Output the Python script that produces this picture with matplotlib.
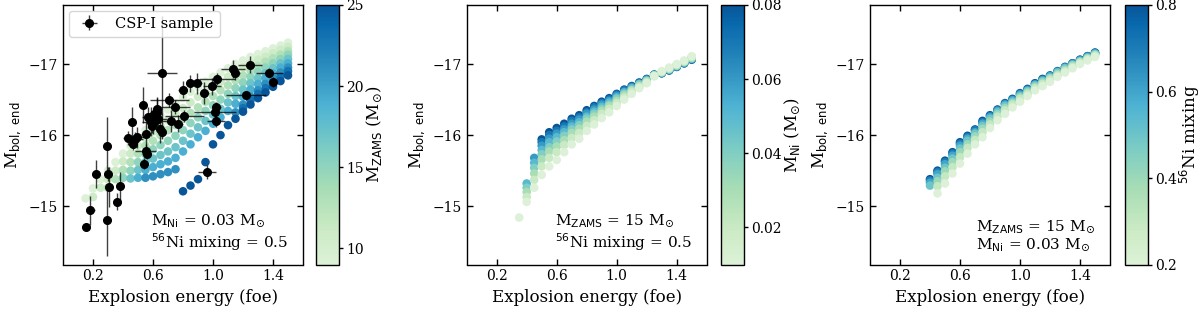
import numpy as np
import matplotlib
matplotlib.use("Agg")
import matplotlib.pyplot as plt
from matplotlib.colors import LinearSegmentedColormap, Normalize
from matplotlib.cm import ScalarMappable

plt.rcParams['font.family'] = ['DejaVu Serif']
plt.rcParams['mathtext.fontset'] = 'dejavusans'

nan = np.nan

# ---------------- Panel 1 : model grid vs progenitor mass ----------------
energy1 = [0.15, 0.20, 0.25, 0.30, 0.35, 0.40, 0.45, 0.50, 0.55, 0.60, 0.65, 0.70, 0.75,
           0.80, 0.85, 0.90, 0.95, 1.00, 1.05, 1.10, 1.15, 1.20, 1.25, 1.30, 1.35, 1.40,
           1.45, 1.50]
masses = [9, 11, 13, 15, 17, 19, 21, 23, 25]
mbol_m9 = [-15.11, -15.25, -15.38, -15.50, -15.62, -15.74, -15.85, -15.96, -16.07, -16.17,
           -16.27, -16.36, -16.45, -16.53, -16.61, -16.68, -16.75, -16.82, -16.88, -16.94,
           -17.00, -17.05, -17.10, -17.14, -17.18, -17.22, -17.26, -17.30]
mbol_m11 = [nan, -15.13, -15.26, -15.38, -15.50, -15.63, -15.74, -15.85, -15.96, -16.05,
            -16.13, -16.21, -16.30, -16.38, -16.46, -16.54, -16.61, -16.69, -16.75, -16.82,
            -16.89, -16.95, -17.01, -17.06, -17.10, -17.15, -17.20, -17.24]
mbol_m13 = [nan, nan, nan, -15.26, -15.38, -15.51, -15.62, -15.74, -15.85, -15.92,
            -16.00, -16.07, -16.14, -16.23, -16.31, -16.39, -16.47, -16.55, -16.63, -16.70,
            -16.77, -16.84, -16.91, -16.97, -17.03, -17.08, -17.13, -17.18]
mbol_m15 = [nan, nan, nan, nan, nan, -15.40, -15.50, -15.62, -15.73, -15.80,
            -15.86, -15.92, -15.99, -16.07, -16.17, -16.25, -16.34, -16.42, -16.50, -16.58,
            -16.66, -16.74, -16.82, -16.89, -16.95, -17.01, -17.07, -17.13]
mbol_m17 = [nan, nan, nan, nan, nan, nan, -15.39, -15.51, -15.62, -15.67,
            -15.72, -15.77, -15.83, -15.92, -16.02, -16.11, -16.20, -16.29, -16.37, -16.46,
            -16.55, -16.64, -16.73, -16.80, -16.87, -16.94, -17.01, -17.07]
mbol_m19 = [nan, nan, nan, nan, nan, nan, nan, -15.40, -15.51, -15.55,
            -15.59, -15.63, -15.68, -15.77, -15.87, -15.97, -16.06, -16.16, -16.25, -16.34,
            -16.44, -16.54, -16.64, -16.72, -16.80, -16.87, -16.95, -17.01]
mbol_m21 = [nan, nan, nan, nan, nan, nan, nan, nan, -15.40, -15.42,
            -15.45, -15.48, -15.52, nan, nan, nan, nan, nan, nan, nan,
            -16.32, -16.43, -16.54, -16.63, -16.72, -16.80, -16.88, -16.95]
mbol_m23 = [nan, nan, nan, nan, nan, nan, nan, nan, nan, nan,
            nan, nan, nan, nan, nan, nan, nan, nan, nan, nan,
            nan, -16.38, -16.49, -16.58, -16.66, -16.74, -16.82, -16.90]
mbol_m25 = [nan, nan, nan, nan, nan, nan, nan, nan, nan, nan,
            nan, nan, nan, -15.21, -15.29, -15.38, -15.62, -15.87, -16.00, -16.14,
            -16.23, -16.33, -16.43, -16.52, -16.60, -16.68, -16.76, -16.84]
mbol_by_mass = [mbol_m9, mbol_m11, mbol_m13, mbol_m15, mbol_m17, mbol_m19,
                mbol_m21, mbol_m23, mbol_m25]

# CSP-I observed sample
csp_energy = [0.153, 0.180, 0.220, 0.291, 0.291, 0.302, 0.309, 0.358, 0.380, 0.431,
              0.458, 0.464, 0.480, 0.496, 0.531, 0.540, 0.553, 0.558, 0.553, 0.569,
              0.584, 0.591, 0.602, 0.607, 0.624, 0.629, 0.636, 0.647, 0.660, 0.660,
              0.709, 0.718, 0.747, 0.769, 0.798, 0.807, 0.847, 0.896, 0.940, 0.993,
              1.013, 1.020, 1.020, 1.029, 1.131, 1.147, 1.220, 1.247, 1.376, 1.398,
              0.962]
csp_mbol = [-14.71, -14.94, -15.45, -14.80, -15.85, -15.45, -15.27, -15.06, -15.28, -15.96,
            -16.19, -15.87, -15.95, -15.97, -16.42, -15.60, -15.78, -15.74, -16.02, -16.25,
            -16.19, -16.13, -16.17, -16.30, -16.33, -16.37, -16.23, -16.09, -16.87, -16.04,
            -16.49, -16.20, -16.40, -16.16, -16.64, -16.27, -16.73, -16.73, -16.59, -16.69,
            -16.32, -16.39, -16.20, -16.79, -16.93, -16.87, -16.56, -16.99, -16.88, -16.75,
            -15.48]
csp_energy_err = [0.01, 0.03, 0.01, 0.01, 0.01, 0.02, 0.02, 0.02, 0.01, 0.03,
                  0.02, 0.03, 0.05, 0.05, 0.01, 0.02, 0.07, 0.03, 0.03, 0.04,
                  0.06, 0.02, 0.03, 0.05, 0.02, 0.03, 0.06, 0.02, 0.10, 0.02,
                  0.13, 0.06, 0.10, 0.03, 0.03, 0.13, 0.03, 0.03, 0.03, 0.06,
                  0.14, 0.03, 0.06, 0.12, 0.08, 0.03, 0.13, 0.08, 0.09, 0.02,
                  0.06]
csp_mbol_err = [0.04, 0.20, 0.20, 0.50, 0.40, 0.10, 0.28, 0.12, 0.20, 0.10,
                0.20, 0.08, 0.10, 0.15, 0.25, 0.08, 0.10, 0.08, 0.20, 0.15,
                0.20, 0.10, 0.15, 0.10, 0.20, 0.15, 0.15, 0.20, 0.80, 0.10,
                0.10, 0.15, 0.10, 0.12, 0.12, 0.08, 0.12, 0.15, 0.15, 0.12,
                0.10, 0.08, 0.08, 0.08, 0.13, 0.10, 0.06, 0.12, 0.06, 0.07,
                0.10]

# ---------------- Panel 2 : model grid vs Ni mass ----------------
energy2 = [0.35, 0.40, 0.45, 0.50, 0.55, 0.60, 0.65, 0.70, 0.75, 0.80, 0.85, 0.90,
           0.95, 1.00, 1.05, 1.10, 1.15, 1.20, 1.25, 1.30, 1.35, 1.40, 1.45, 1.50]
ni_masses = [0.01, 0.02, 0.03, 0.04, 0.05, 0.06, 0.07, 0.08]
mbol_ni001 = [-14.84, -15.06, -15.26, -15.44, -15.56, -15.65, -15.76, -15.87, -15.95, -16.06,
              -16.15, -16.24, -16.32, -16.41, -16.50, -16.58, -16.66, -16.73, -16.83, -16.90,
              -16.95, -17.00, -17.05, -17.11]
mbol_ni002 = [nan, -15.13, -15.37, -15.56, -15.68, -15.76, -15.86, -15.96, -16.03, -16.13,
              -16.21, -16.30, -16.37, -16.45, -16.53, -16.61, -16.68, -16.74, -16.83, -16.89,
              -16.94, -16.99, -17.04, -17.10]
mbol_ni003 = [nan, -15.20, -15.46, -15.66, -15.77, -15.84, -15.93, -16.03, -16.09, -16.19,
              -16.26, -16.34, -16.41, -16.48, -16.56, -16.63, -16.69, -16.76, -16.84, -16.89,
              -16.93, -16.98, -17.03, -17.09]
mbol_ni004 = [nan, -15.26, -15.54, -15.73, -15.83, -15.91, -15.99, -16.08, -16.14, -16.23,
              -16.30, -16.37, -16.43, -16.51, -16.58, -16.64, -16.71, -16.76, -16.84, -16.88,
              -16.93, -16.98, -17.03, -17.08]
mbol_ni005 = [nan, -15.32, -15.61, -15.79, -15.90, -15.97, -16.04, -16.12, -16.18, -16.26,
              -16.33, -16.40, -16.46, -16.53, -16.60, -16.66, -16.72, -16.77, -16.84, -16.88,
              -16.92, -16.97, -17.02, -17.08]
mbol_ni006 = [nan, nan, -15.68, -15.85, -15.95, -16.02, -16.08, -16.16, -16.22, -16.30,
              -16.36, -16.43, -16.48, -16.55, -16.61, -16.67, -16.72, -16.78, -16.85, -16.88,
              -16.92, -16.97, -17.02, -17.07]
mbol_ni007 = [nan, nan, nan, -15.90, -16.00, -16.06, -16.12, -16.20, -16.25, -16.32,
              -16.39, -16.45, -16.50, -16.57, -16.63, -16.68, -16.73, -16.78, -16.85, -16.87,
              -16.91, -16.96, -17.01, -17.07]
mbol_ni008 = [nan, nan, nan, -15.94, -16.04, -16.10, -16.16, -16.23, -16.28, -16.35,
              -16.41, -16.47, -16.52, -16.58, -16.64, -16.69, -16.74, -16.79, -16.85, -16.87,
              -16.91, -16.96, -17.01, -17.06]
mbol_by_ni = [mbol_ni001, mbol_ni002, mbol_ni003, mbol_ni004, mbol_ni005, mbol_ni006,
              mbol_ni007, mbol_ni008]

# ---------------- Panel 3 : model grid vs 56Ni mixing ----------------
energy3 = [0.40, 0.45, 0.50, 0.55, 0.60, 0.65, 0.70, 0.75, 0.80, 0.85, 0.90, 0.95,
           1.00, 1.05, 1.10, 1.15, 1.20, 1.25, 1.30, 1.35, 1.40, 1.45, 1.50]
mixing = [0.2, 0.3, 0.4, 0.5, 0.6, 0.7, 0.8]
mbol_mix02 = [nan, -15.18, -15.32, -15.46, -15.60, -15.74, -15.87, -15.97, -16.10, -16.21,
              -16.30, -16.39, -16.47, -16.55, -16.63, -16.69, -16.75, -16.82, -16.88, -16.94,
              -17.00, -17.05, -17.10]
mbol_mix03 = [nan, -15.28, -15.42, -15.55, -15.69, -15.82, -15.93, -16.04, -16.15, -16.26,
              -16.35, -16.43, -16.51, -16.58, -16.66, -16.72, -16.78, -16.84, -16.90, -16.96,
              -17.02, -17.07, -17.12]
mbol_mix04 = [nan, -15.35, -15.49, -15.62, -15.76, -15.87, -15.98, -16.09, -16.19, -16.29,
              -16.38, -16.45, -16.53, -16.60, -16.68, -16.74, -16.80, -16.86, -16.92, -16.98,
              -17.03, -17.08, -17.13]
mbol_mix05 = [-15.29, -15.40, -15.54, -15.67, -15.81, -15.92, -16.02, -16.13, -16.23, -16.32,
              -16.41, -16.47, -16.55, -16.62, -16.70, -16.76, -16.81, -16.88, -16.94, -16.99,
              -17.04, -17.09, -17.14]
mbol_mix06 = [-15.33, -15.45, -15.59, -15.71, -15.85, -15.95, -16.04, -16.16, -16.25, -16.34,
              -16.43, -16.49, -16.57, -16.63, -16.71, -16.77, -16.83, -16.89, -16.95, -17.00,
              -17.05, -17.10, -17.15]
mbol_mix07 = [-15.36, -15.48, -15.62, -15.74, -15.88, -15.97, -16.07, -16.18, -16.27, -16.35,
              -16.44, -16.50, -16.58, -16.64, -16.72, -16.78, -16.83, -16.89, -16.95, -17.01,
              -17.06, -17.11, -17.16]
mbol_mix08 = [-15.38, -15.50, -15.64, -15.76, -15.90, -15.99, -16.08, -16.20, -16.28, -16.36,
              -16.45, -16.51, -16.59, -16.65, -16.73, -16.79, -16.84, -16.90, -16.96, -17.01,
              -17.06, -17.11, -17.16]
mbol_by_mix = [mbol_mix02, mbol_mix03, mbol_mix04, mbol_mix05, mbol_mix06, mbol_mix07,
               mbol_mix08]

# ---------------- Figure ----------------
cmap = LinearSegmentedColormap.from_list(
    'GnBu_trunc', plt.cm.GnBu(np.linspace(0.15, 0.93, 256)))

W, H = 1200.0, 314.0
fig = plt.figure(figsize=(W / 100, H / 100), dpi=100)

ax_bottom = 264.5
ax_top = 5.0
ax_w = 240.0
cb_w = 23.0
ax_lefts = [63.0, 466.7, 870.0]
cb_lefts = [316.0, 721.0, 1125.0]


def frac_rect(left, width):
    return [left / W, (H - ax_bottom) / H, width / W, (ax_bottom - ax_top) / H]


marker_size = 38
label_fs = 12
tick_fs = 10
note_fs = 11

axes = []
caxes = []
for i in range(3):
    ax = fig.add_axes(frac_rect(ax_lefts[i], ax_w))
    cax = fig.add_axes(frac_rect(cb_lefts[i], cb_w))
    axes.append(ax)
    caxes.append(cax)

# Panel 1
ax = axes[0]
norm1 = Normalize(vmin=9, vmax=25)
for m, mb in zip(masses, mbol_by_mass):
    ax.scatter(energy1, mb, c=[m] * len(energy1), cmap=cmap, norm=norm1,
               s=marker_size, edgecolors='none', zorder=2)
eb = ax.errorbar(csp_energy, csp_mbol, xerr=csp_energy_err, yerr=csp_mbol_err,
                 fmt='o', color='k', ms=5.5, ecolor='k', elinewidth=1.0,
                 capsize=0, zorder=3, label='CSP-I sample')
for coll in eb[2]:
    coll.set_alpha(0.75)
ax.legend(loc='upper left', fontsize=10.5, framealpha=0.8, borderaxespad=0.4,
          handletextpad=0.8)
ax.text(0.94, 0.045, "M$_{\\rm Ni}$ = 0.03 M$_{\\odot}$\n$^{56}$Ni mixing = 0.5",
        transform=ax.transAxes, ha='right', va='bottom', multialignment='left',
        fontsize=note_fs, linespacing=1.1)

# Panel 2
ax = axes[1]
norm2 = Normalize(vmin=0.01, vmax=0.08)
for ni, mb in reversed(list(zip(ni_masses, mbol_by_ni))):
    ax.scatter(energy2, mb, c=[ni] * len(energy2), cmap=cmap, norm=norm2,
               s=marker_size, edgecolors='none', zorder=2)
ax.text(0.94, 0.045, "M$_{\\rm ZAMS}$ = 15 M$_{\\odot}$\n$^{56}$Ni mixing = 0.5",
        transform=ax.transAxes, ha='right', va='bottom', multialignment='left',
        fontsize=note_fs, linespacing=1.1)

# Panel 3
ax = axes[2]
norm3 = Normalize(vmin=0.2, vmax=0.8)
for mx, mb in reversed(list(zip(mixing, mbol_by_mix))):
    ax.scatter(energy3, mb, c=[mx] * len(energy3), cmap=cmap, norm=norm3,
               s=marker_size, edgecolors='none', zorder=2)
ax.text(0.94, 0.045, "M$_{\\rm ZAMS}$ = 15 M$_{\\odot}$\nM$_{\\rm Ni}$ = 0.03 M$_{\\odot}$",
        transform=ax.transAxes, ha='right', va='bottom', multialignment='left',
        fontsize=note_fs, linespacing=1.1)

for ax in axes:
    ax.set_xlim(0.0, 1.6)
    ax.set_ylim(-14.18, -17.83)
    ax.set_xticks([0.2, 0.6, 1.0, 1.4])
    ax.set_yticks([-17, -16, -15])
    ax.tick_params(direction='in', top=True, right=True, labelsize=tick_fs,
                   length=4, width=1)
    ax.set_xlabel('Explosion energy (foe)', fontsize=label_fs)
    ax.set_ylabel('M$_{\\rm bol,\\ end}$', fontsize=label_fs)
    for sp in ax.spines.values():
        sp.set_linewidth(1.0)

cb_specs = [
    (norm1, [10, 15, 20, 25], 'M$_{\\rm ZAMS}$ (M$_{\\odot}$)'),
    (norm2, [0.02, 0.04, 0.06, 0.08], 'M$_{\\rm Ni}$ (M$_{\\odot}$)'),
    (norm3, [0.2, 0.4, 0.6, 0.8], '$^{56}$Ni mixing'),
]
for cax, (nrm, ticks, lab) in zip(caxes, cb_specs):
    sm = ScalarMappable(norm=nrm, cmap=cmap)
    cb = fig.colorbar(sm, cax=cax, ticks=ticks)
    cb.set_label(lab, fontsize=label_fs, labelpad=1)
    cb.ax.tick_params(labelsize=tick_fs, length=3, width=1, pad=2)
    cb.outline.set_linewidth(1.0)

fig.savefig('out.png', dpi=100)
